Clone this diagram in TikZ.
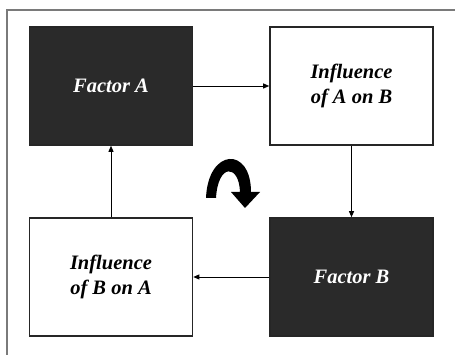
\documentclass[tikz,border=0pt]{standalone}
\usepackage{fontspec}
\setmainfont{Liberation Serif}
\usetikzlibrary{arrows.meta}
\definecolor{darkbox}{HTML}{2A2A2A}
\definecolor{framegray}{HTML}{7A7A7A}
\begin{document}
\begin{tikzpicture}[x=1pt,y=-1pt,
  box/.style={draw=black!85, line width=1.6pt, minimum width=163pt, minimum height=118pt, inner sep=0pt, align=center,
    font=\fontsize{20.5}{25}\selectfont\bfseries\itshape},
  darkbox/.style={box, fill=darkbox, text=white},
  lightbox/.style={box, fill=white, text=black},
  conn/.style={draw=black, line width=0.9pt, -{Triangle[length=6pt,width=5pt]}}]
\useasboundingbox (0,0) rectangle (455,355);
\fill[white] (0,0) rectangle (455,355);
\draw[framegray, line width=1.5pt] (7,360) -- (7,10) -- (460,10);
\node[darkbox] (fa) at (111,86) {Factor A};
\node[lightbox] (iab) at (351.5,86) {Influence\\of A on B};
\node[darkbox] (fb) at (351.5,277) {Factor B};
\node[lightbox] (iba) at (111,277) {Influence\\of B on A};
\draw[conn] (fa) -- (iab);
\draw[conn] (iab) -- (fb);
\draw[conn] (fb) -- (iba);
\draw[conn] (iba) -- (fa);
\fill[black] (206,198) .. controls (208,148) and (251,146) .. (251,192)
  -- (260,192) -- (245,208) -- (231,192) -- (240,192)
  .. controls (239,164) and (218,163) .. (216,198) -- cycle;
\end{tikzpicture}
\end{document}
